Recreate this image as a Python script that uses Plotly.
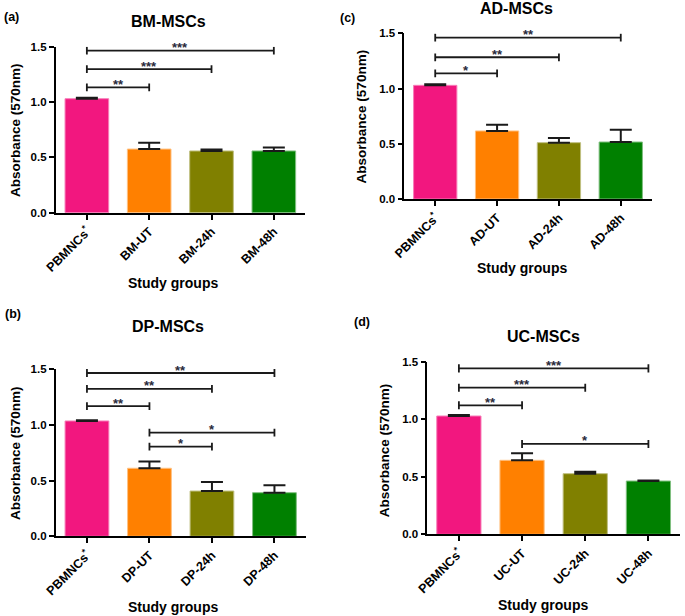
import plotly.graph_objects as go

# ---------------- data ----------------
labels_bm = ["PBMNCs<sup>*</sup>", "BM-UT", "BM-24h", "BM-48h"]
labels_ad = ["PBMNCs<sup>*</sup>", "AD-UT", "AD-24h", "AD-48h"]
labels_dp = ["PBMNCs<sup>*</sup>", "DP-UT", "DP-24h", "DP-48h"]
labels_uc = ["PBMNCs<sup>*</sup>", "UC-UT", "UC-24h", "UC-48h"]

values_bm = [1.030, 0.575, 0.558, 0.558]
errors_bm = [0.008, 0.058, 0.012, 0.032]
values_ad = [1.029, 0.616, 0.510, 0.516]
errors_ad = [0.010, 0.057, 0.042, 0.112]
values_dp = [1.034, 0.610, 0.406, 0.391]
errors_dp = [0.006, 0.060, 0.080, 0.066]
values_uc = [1.028, 0.643, 0.527, 0.463]
errors_uc = [0.009, 0.061, 0.017, 0.004]

# (from index, to index, height, label)
brackets_bm = [(0, 3, 1.464, "***"), (0, 2, 1.298, "***"), (0, 1, 1.133, "**")]
brackets_ad = [(0, 3, 1.461, "**"), (0, 2, 1.283, "**"), (0, 1, 1.138, "*")]
brackets_dp = [(0, 3, 1.464, "**"), (0, 2, 1.321, "**"), (0, 1, 1.168, "**"),
               (1, 3, 0.929, "*"), (1, 2, 0.804, "*")]
brackets_uc = [(0, 3, 1.442, "***"), (0, 2, 1.274, "***"), (0, 1, 1.121, "**"),
               (1, 3, 0.785, "*")]

titles = ["BM-MSCs", "AD-MSCs", "DP-MSCs", "UC-MSCs"]
panel_tags = ["(a)", "(c)", "(b)", "(d)"]
y_ticks = [0.0, 0.5, 1.0, 1.5]

bar_colors = ["#F2177F", "#FF8000", "#808000", "#008000"]
bar_edges = ["#F77DB8", "#FFC080", "#BFBF80", "#80BF80"]

W, H = 685, 616
FONT = "Liberation Sans, Arial, sans-serif"

# panel geometry in pixels: x0, x1, ytop, ybottom
panels = [
    dict(labels=labels_bm, vals=values_bm, errs=errors_bm, br=brackets_bm,
         box=(55.7, 305.0, 46.7, 212.7), title=(168, 21.7), tag=(11, 17),
         ytitle=(15, 130), xtitle=(173, 283)),
    dict(labels=labels_ad, vals=values_ad, errs=errors_ad, br=brackets_ad,
         box=(404.3, 651.7, 33.3, 199.0), title=(516.7, 8.5), tag=(348, 18.3),
         ytitle=(361.7, 116.7), xtitle=(521.7, 268.3)),
    dict(labels=labels_dp, vals=values_dp, errs=errors_dp, br=brackets_dp,
         box=(55.7, 305.7, 369.0, 536.3), title=(168, 326), tag=(13, 314),
         ytitle=(15, 453), xtitle=(173, 606.7)),
    dict(labels=labels_uc, vals=values_uc, errs=errors_uc, br=brackets_uc,
         box=(427.3, 680.0, 361.7, 534.3), title=(543.3, 336.7), tag=(362, 321.7),
         ytitle=(384.3, 450), xtitle=(543, 605)),
]


def px(x):
    return x / W


def py(y):
    return 1 - y / H


fig = go.Figure()
layout = dict(
    width=W, height=H, margin=dict(l=0, r=0, t=0, b=0, autoexpand=False),
    paper_bgcolor="white", plot_bgcolor="white",
    showlegend=False, bargap=0.3,
    font=dict(family=FONT, color="black"),
)
shapes = []
annotations = []
cap = 0.035

for i, p in enumerate(panels):
    n = "" if i == 0 else str(i + 1)
    xa, ya = "x" + n, "y" + n
    x0, x1, yt, yb = p["box"]
    fig.add_trace(go.Bar(
        x=p["labels"], y=p["vals"], xaxis=xa, yaxis=ya,
        marker=dict(color=bar_colors, line=dict(color=bar_edges, width=1)),
        error_y=dict(type="data", symmetric=False, array=p["errs"],
                     arrayminus=[0] * len(p["errs"]),
                     color="#1a1a1a", thickness=2, width=11),
        hoverinfo="skip",
    ))
    layout["xaxis" + n] = dict(
        domain=[px(x0), px(x1)], anchor=ya, type="category",
        categoryorder="array", categoryarray=p["labels"],
        range=[-0.5, len(p["labels"]) - 0.5], automargin=False,
        showline=True, linecolor="black", linewidth=1.6,
        ticks="outside", ticklen=5, tickwidth=1.6, tickcolor="black",
        tickangle=-45, tickfont=dict(size=12.5, family=FONT, weight="bold"),
        showgrid=False, zeroline=False, fixedrange=True,
    )
    layout["yaxis" + n] = dict(
        domain=[py(yb), py(yt)], anchor=xa, range=[0, 1.5], automargin=False,
        tickvals=y_ticks, tickformat=".1f",
        showline=True, linecolor="black", linewidth=1.6,
        ticks="outside", ticklen=5, tickwidth=1.6, tickcolor="black",
        tickfont=dict(size=11.5, family=FONT, weight="bold"),
        showgrid=False, zeroline=False, fixedrange=True,
    )
    # significance brackets
    for (a, b, h, s) in p["br"]:
        shapes.append(dict(type="line", xref=xa, yref=ya, x0=a, x1=b, y0=h, y1=h,
                           line=dict(color="#1a1a1a", width=1.8)))
        for e in (a, b):
            shapes.append(dict(type="line", xref=xa, yref=ya, x0=e, x1=e,
                               y0=h - cap, y1=h + cap,
                               line=dict(color="#1a1a1a", width=1.8)))
        annotations.append(dict(x=(a + b) / 2, y=h, xref=xa, yref=ya, text=s,
                                showarrow=False, yanchor="middle", yshift=3,
                                font=dict(size=13, family=FONT, color="#2a2a3a",
                                          weight="bold")))
    # panel title
    annotations.append(dict(x=px(p["title"][0]), y=py(p["title"][1]), xref="paper",
                            yref="paper", text=titles[i], showarrow=False,
                            xanchor="center", yanchor="middle",
                            font=dict(size=16, family=FONT, weight="bold")))
    annotations.append(dict(x=px(p["tag"][0]), y=py(p["tag"][1]), xref="paper",
                            yref="paper", text=panel_tags[i], showarrow=False,
                            xanchor="center", yanchor="middle",
                            font=dict(size=12.5, family=FONT, weight="bold")))
    annotations.append(dict(x=px(p["ytitle"][0]), y=py(p["ytitle"][1]), xref="paper",
                            yref="paper", text="Absorbance (570nm)", textangle=-90,
                            showarrow=False, xanchor="center", yanchor="middle",
                            font=dict(size=13.5, family=FONT, weight="bold")))
    annotations.append(dict(x=px(p["xtitle"][0]), y=py(p["xtitle"][1]), xref="paper",
                            yref="paper", text="Study groups", showarrow=False,
                            xanchor="center", yanchor="middle",
                            font=dict(size=14, family=FONT, weight="bold")))

layout["shapes"] = shapes
layout["annotations"] = annotations
fig.update_layout(**layout)
fig.write_html(
    "out.html",
    config={"displayModeBar": False},
    post_script="document.body.style.margin='0';document.body.style.overflow='hidden';",
)
